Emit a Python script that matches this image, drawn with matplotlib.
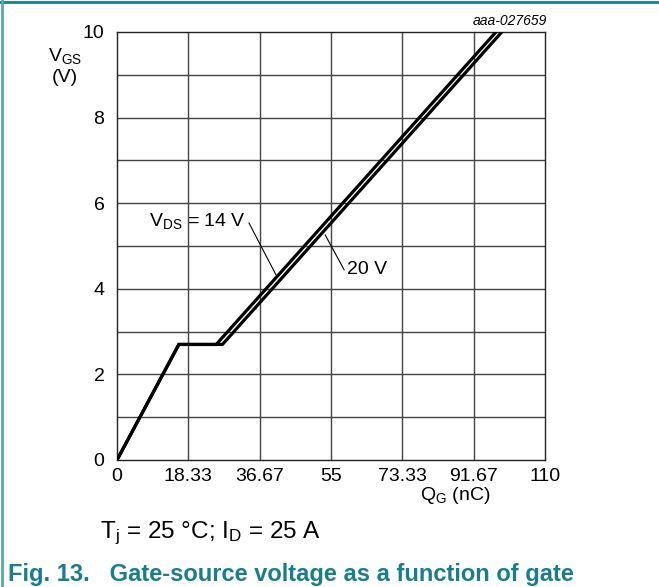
import matplotlib
matplotlib.use("Agg")
import matplotlib.pyplot as plt
from matplotlib.lines import Line2D

plt.rcParams["font.family"] = ["Liberation Sans", "DejaVu Sans"]
plt.rcParams["mathtext.fontset"] = "custom"
plt.rcParams["mathtext.rm"] = "Liberation Sans"
plt.rcParams["mathtext.it"] = "Liberation Sans:italic"

TEAL = "#1a7d8a"
FS = 14

# gate charge curves (Q_G in nC, V_GS in V)
qg_14v = [0, 15.9, 25.5, 97.4]
vgs_14v = [0, 2.7, 2.7, 10]
qg_20v = [0, 15.9, 27.1, 98.9]
vgs_20v = [0, 2.7, 2.7, 10]

x_ticks = [0, 18.33, 36.67, 55, 73.33, 91.67, 110]
x_tick_labels = ["0", "18.33", "36.67", "55", "73.33", "91.67", "110"]
y_ticks = [0, 2, 4, 6, 8, 10]

fig = plt.figure(figsize=(6.59, 5.87), dpi=100)
ax = fig.add_axes([117 / 659, 1 - 460 / 587, 428 / 659, 428 / 587])

# grid: every 1 V horizontally, every 18.33 nC vertically
for v in range(1, 10):
    ax.axhline(v, color="#444444", lw=1.0, zorder=1)
for q in x_ticks[1:-1]:
    ax.axvline(q, color="#444444", lw=1.0, zorder=1)

ax.plot(qg_14v, vgs_14v, color="black", lw=2.3, solid_joinstyle="miter", zorder=3)
ax.plot(qg_20v, vgs_20v, color="black", lw=2.3, solid_joinstyle="miter", zorder=3)

ax.set_xlim(0, 110)
ax.set_ylim(0, 10)
ax.set_xticks(x_ticks)
ax.set_xticklabels(x_tick_labels)
ax.set_yticks(y_ticks)
ax.tick_params(length=0, labelsize=FS)
ax.tick_params(axis="x", pad=6)
ax.tick_params(axis="y", pad=9)
for s in ax.spines.values():
    s.set_linewidth(1.0)
    s.set_color("#222222")

# curve labels with leader lines
ax.annotate("", xy=(40.9, 4.32), xytext=(33.9, 5.54),
            arrowprops=dict(arrowstyle="-", color="black", lw=0.8, shrinkA=0, shrinkB=0))
ax.text(33.0, 5.58, r"V$_{\mathregular{DS}}$ = 14 V", ha="right", va="center", fontsize=FS)
ax.annotate("", xy=(58.4, 4.44), xytext=(53.5, 5.26),
            arrowprops=dict(arrowstyle="-", color="black", lw=0.8, shrinkA=0, shrinkB=0))
ax.text(59.0, 4.44, "20 V", ha="left", va="center", fontsize=FS)

fig.text(547 / 659, 1 - 21 / 587, "aaa-027659", ha="right", va="center",
         fontsize=10, style="italic")
fig.text(65 / 659, 1 - 56 / 587, r"V$_{\mathregular{GS}}$", ha="center", va="center", fontsize=FS)
fig.text(65 / 659, 1 - 77 / 587, "(V)", ha="center", va="center", fontsize=FS)
fig.text(455 / 659, 1 - 496 / 587, r"Q$_{\mathregular{G}}$ (nC)", ha="center", va="center",
         fontsize=FS)

fig.text(100 / 659, 1 - 533 / 587, r"T$_{\mathregular{j}}$ = 25 °C; I$_{\mathregular{D}}$ = 25 A",
         ha="left", va="center", fontsize=17.5)
fig.text(8 / 659, 1 - 575 / 587, "Fig. 13.   Gate-source voltage as a function of gate",
         ha="left", va="center", fontsize=17, fontweight="bold", color=TEAL)

# teal frame at top and left
fig.add_artist(Line2D([0, 1], [1 - 1.5 / 587, 1 - 1.5 / 587], color=TEAL, lw=2,
                      transform=fig.transFigure))
fig.add_artist(Line2D([1.5 / 659, 1.5 / 659], [0, 1], color="#5aa8b0", lw=2,
                      transform=fig.transFigure))

fig.savefig("out.png", dpi=100)
